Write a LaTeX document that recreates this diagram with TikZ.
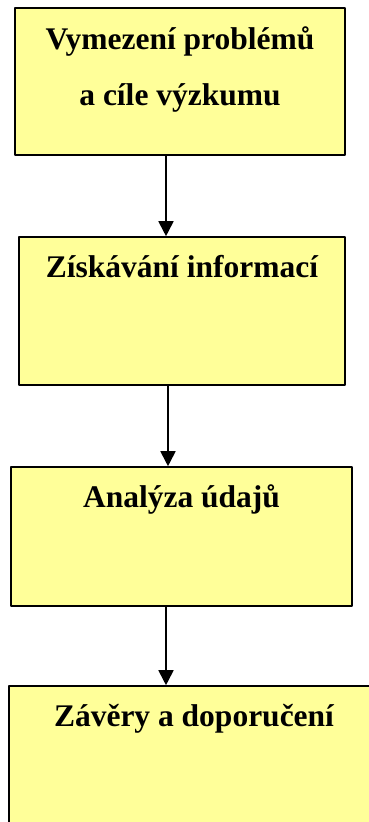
\documentclass[tikz,border=0pt]{standalone}
\usepackage{fontspec}
\setmainfont{Liberation Serif}
\usetikzlibrary{arrows.meta}
\definecolor{stagefill}{HTML}{FFFF99}
\begin{document}
\begin{tikzpicture}[x=1pt,y=-1pt,line cap=round,line join=round,
  stage/.style={draw,fill=stagefill,line width=1.6pt,line cap=butt,rectangle,inner sep=0pt},
  title/.style={anchor=base,inner sep=0pt,font=\bfseries\fontsize{31.5}{38}\selectfont},
  flow/.style={line width=1.8pt,-{Triangle[width=15pt,length=15pt]}}]
  \clip (0,0) rectangle (369,822);
  \node[stage,minimum width=330pt,minimum height=147pt] (vymezeni) at (180,81.5) {};
  \node[stage,minimum width=326pt,minimum height=148pt] (ziskavani) at (182,311) {};
  \node[stage,minimum width=341pt,minimum height=139pt] (analyza) at (181.5,536.5) {};
  \node[stage,minimum width=370pt,minimum height=160pt] (zavery) at (194,766) {};
  \node[title] (vymezeniA) at ([yshift=-42pt]vymezeni.north) {Vymezení problémů};
  \node[title] (vymezeniB) at ([yshift=-98pt]vymezeni.north) {a cíle výzkumu};
  \node[title] (ziskavaniA) at ([yshift=-41pt]ziskavani.north) {Získávání informací};
  \node[title] (analyzaA) at ([yshift=-41pt]analyza.north) {Analýza údajů};
  \node[title] (zaveryA) at ([yshift=-41pt]zavery.north) {Závěry a doporučení};
  \draw[flow] ([xshift=-14pt]vymezeni.south) -- ([xshift=-14pt]vymezeni.south |- ziskavani.north);
  \draw[flow] ([xshift=-14pt]ziskavani.south) -- ([xshift=-14pt]ziskavani.south |- analyza.north);
  \draw[flow] ([xshift=-15.5pt]analyza.south) -- ([xshift=-15.5pt]analyza.south |- zavery.north);
\end{tikzpicture}
\end{document}
